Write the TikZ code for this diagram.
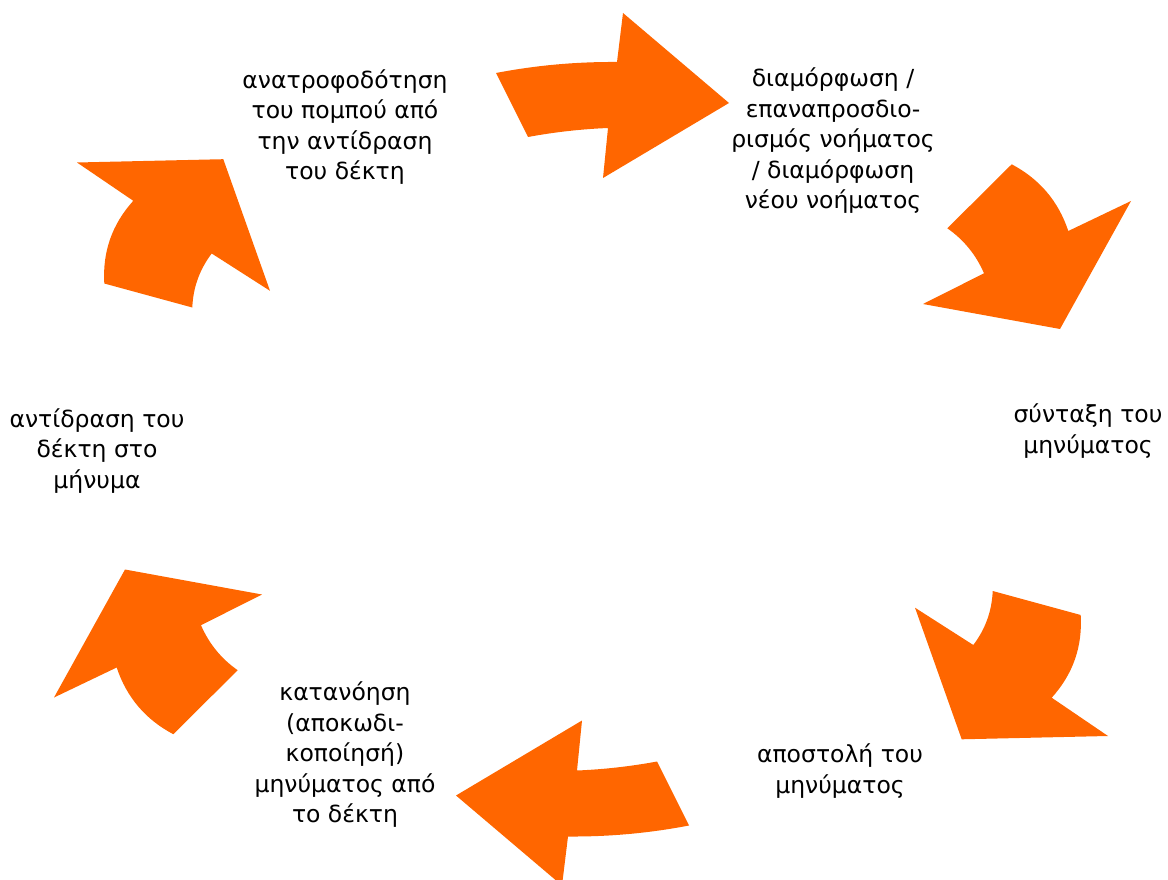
\documentclass[tikz,border=0pt]{standalone}
\usepackage{fontspec}
\setmainfont{DejaVu Sans}
\definecolor{arrorange}{HTML}{FF6600}
\begin{document}
\begin{tikzpicture}[x=1pt,y=-1pt,
  arr/.style={fill=arrorange,draw=none},
  lbl/.style={align=center,font=\fontsize{23.5}{30.5}\selectfont,inner sep=0pt,text=black}]
\useasboundingbox (0,0) rectangle (1168,880);
\clip (0,0) rectangle (1168,880);
\foreach \r in {0,180}{
\begin{scope}[rotate around={\r:(592.5,449.25)}]
  \fill[arr] (496,73) .. controls (536,65.3) and (576.3,61.7) .. (617,62) -- (623,13) -- (729,103) -- (603,178) -- (608,128) .. controls (581.1,129.1) and (554.5,132.1) .. (528,137) -- cycle;
  \fill[arr] (1011.7,164.3) .. controls (1039.5,179.0) and (1058.4,201.2) .. (1068.3,231) -- (1131,201) -- (1060,329) -- (923,304) -- (984,273.3) .. controls (976,254.8) and (963.8,239.8) .. (947.3,228.3) -- cycle;
  \fill[arr] (992.7,591) -- (1080.7,615) .. controls (1082.6,646.6) and (1073.0,674.2) .. (1051.7,697.7) -- (1108,736) -- (961.7,739.3) -- (915,607.7) -- (973.3,645) .. controls (985.4,629) and (991.9,611) .. (992.7,591) -- cycle;
\end{scope}}
\node[lbl] (n1) at (833,141) {διαμόρφωση /\\επαναπροσδιο-\\ρισμός νοήματος\\/ διαμόρφωση\\νέου νοήματος};
\node[lbl] (n2) at (1088,431) {σύνταξη του\\μηνύματος};
\node[lbl] (n3) at (840,771) {αποστολή του\\μηνύματος};
\node[lbl] (n4) at (345,755) {κατανόηση\\(αποκωδι-\\κοποίησή)\\μηνύματος από\\το δέκτη};
\node[lbl] (n5) at (97,451) {αντίδραση του\\δέκτη στο\\μήνυμα};
\node[lbl] (n6) at (345,127) {ανατροφοδότηση\\του πομπού από\\την αντίδραση\\του δέκτη};
\end{tikzpicture}
\end{document}
